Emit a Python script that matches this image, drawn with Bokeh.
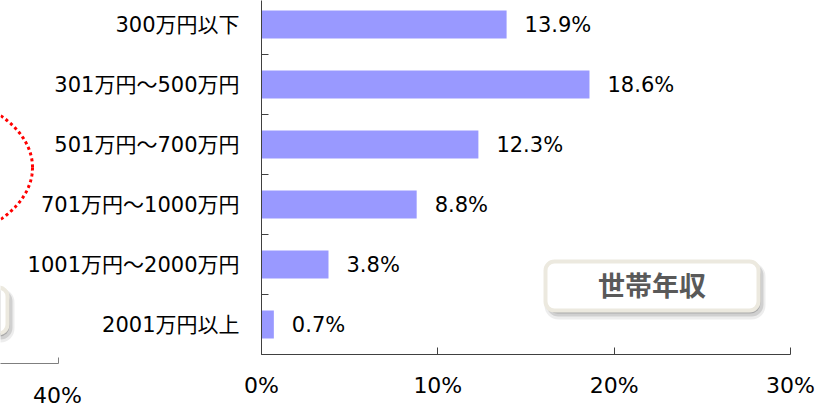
import numpy as np
from bokeh.plotting import figure
from bokeh.layouts import column
from bokeh.models import FixedTicker, PrintfTickFormatter, Range1d
from bokeh.core.properties import value
from bokeh.embed import file_html
from bokeh.resources import INLINE

# ---- data ----
categories = ["300万円以下", "301万円～500万円", "501万円～700万円",
              "701万円～1000万円", "1001万円～2000万円", "2001万円以上"]
values = [13.9, 18.6, 12.3, 8.8, 3.8, 0.7]
x_ticks = [0, 10, 20, 30]
box_title = "世帯年収"
neighbor_tick_label = "40%"

n = len(categories)
ys = [n - i - 0.5 for i in range(n)]
labels = [f"{v}%" for v in values]

FONT = "DejaVu Sans, Noto Sans CJK JP"
AXIS_COLOR = "#404040"

W, H = 827, 412
LEFT, RIGHT, TOP, BOTTOM = 261, 37, 0, 58
FRAME_W = W - LEFT - RIGHT          # 529
FRAME_H = H - TOP - BOTTOM          # 354
X_MAX = 30
PX_X = FRAME_W / X_MAX
PX_Y = 60                           # pixels per category


def px_to_x(px):
    return (np.asarray(px, dtype=float) - LEFT) / PX_X


def py_to_y(py):
    return ((H - BOTTOM) - np.asarray(py, dtype=float)) / PX_Y


p = figure(width=W, height=H, output_backend="svg", toolbar_location=None,
           title=None,
           x_range=Range1d(0, X_MAX), y_range=Range1d(0, FRAME_H / PX_Y),
           min_border_left=LEFT, min_border_right=RIGHT, min_border_top=TOP,
           min_border_bottom=BOTTOM)
p.outline_line_color = None
p.grid.visible = False
p.frame_align = False

# x axis
xa = p.xaxis[0]
xa.ticker = FixedTicker(ticks=x_ticks)
xa.formatter = PrintfTickFormatter(format="%d%%")
xa.major_tick_in = 7
xa.major_tick_out = 0
xa.minor_tick_in = 0
xa.minor_tick_out = 0
xa.axis_line_color = AXIS_COLOR
xa.major_tick_line_color = AXIS_COLOR
xa.major_label_text_font = FONT
xa.major_label_text_font_size = "22px"
xa.major_label_text_color = "black"
xa.major_label_standoff = 18

# y axis
ya = p.yaxis[0]
ya.ticker = FixedTicker(ticks=ys, minor_ticks=list(range(n + 1)))
ya.major_label_overrides = {y: c for y, c in zip(ys, categories)}
ya.major_tick_in = 0
ya.major_tick_out = 0
ya.minor_tick_in = 7
ya.minor_tick_out = 0
ya.axis_line_color = AXIS_COLOR
ya.minor_tick_line_color = AXIS_COLOR
ya.major_label_text_font = FONT
ya.major_label_text_font_size = "21px"
ya.major_label_text_color = "black"
ya.major_label_standoff = 22

# bars
p.hbar(y=ys, left=0, right=values, height=28 / PX_Y,
       fill_color="#9999FF", line_color=None)

# value labels
p.text(x=values, y=ys, text=labels, x_offset=18,
       text_align="left", text_baseline="middle",
       text_font=value(FONT), text_font_size="21px", text_color="black")

# "世帯年収" box
bx0, bx1, by0, by1 = 545, 758, 261, 310   # page px
for dx, dy, grow, a in [(3, 5, 4, 0.07), (3, 4, 2, 0.12), (2, 3, 0, 0.18)]:
    p.quad(left=px_to_x(bx0 + dx - grow), right=px_to_x(bx1 + dx + grow),
           top=py_to_y(by0 + dy - grow), bottom=py_to_y(by1 + dy + grow),
           fill_color="#000000", fill_alpha=a, line_color=None,
           border_radius=10 + grow)
p.quad(left=px_to_x(bx0), right=px_to_x(bx1), top=py_to_y(by0), bottom=py_to_y(by1),
       fill_color="white", line_color="#ECE9DF", line_width=4, border_radius=9)
p.text(x=[px_to_x((bx0 + bx1) / 2)], y=[py_to_y(284)], text=[box_title],
       text_align="center", text_baseline="middle",
       text_font=value("Noto Sans CJK JP"), text_font_style="bold",
       text_font_size="27px", text_color="#595959")

# ---- overlay: fragments of the neighbouring chart at the left edge ----
q = figure(width=W, height=H, output_backend="svg", toolbar_location=None,
           title=None, x_range=Range1d(0, W), y_range=Range1d(H, 0),
           x_axis_type=None, y_axis_type=None,
           min_border_left=0, min_border_right=0, min_border_top=0,
           min_border_bottom=0)
q.outline_line_color = None
q.grid.visible = False
q.background_fill_alpha = 0
q.border_fill_alpha = 0
q.frame_align = False
q.margin = (-H, 0, 0, 0)

t = np.linspace(0, 2 * np.pi, 360)
q.line(x=-90 + 122 * np.cos(t), y=167 + 77 * np.sin(t),
       line_color="#FF0000", line_width=3, line_dash="3 3")
# partial label box
for dx, dy, grow, a in [(3, 5, 4, 0.07), (3, 4, 2, 0.12), (2, 3, 0, 0.18)]:
    q.quad(left=-200, right=7 + dx + grow, top=287 + dy - grow, bottom=333 + dy + grow,
           fill_color="#000000", fill_alpha=a, line_color=None, border_radius=10 + grow)
q.quad(left=-200, right=7, top=287, bottom=333, fill_color="white",
       line_color="#ECE9DF", line_width=4, border_radius=9)
# partial axis
q.line(x=[-10, 58, 58], y=[363, 363, 357], line_color="#7F7F7F", line_width=1)
q.text(x=[57], y=[395], text=[neighbor_tick_label], text_align="center",
       text_baseline="middle", text_font=value(FONT), text_font_size="22px",
       text_color="black")

open("out.html", "w").write(file_html(column(p, q, spacing=0), INLINE))
